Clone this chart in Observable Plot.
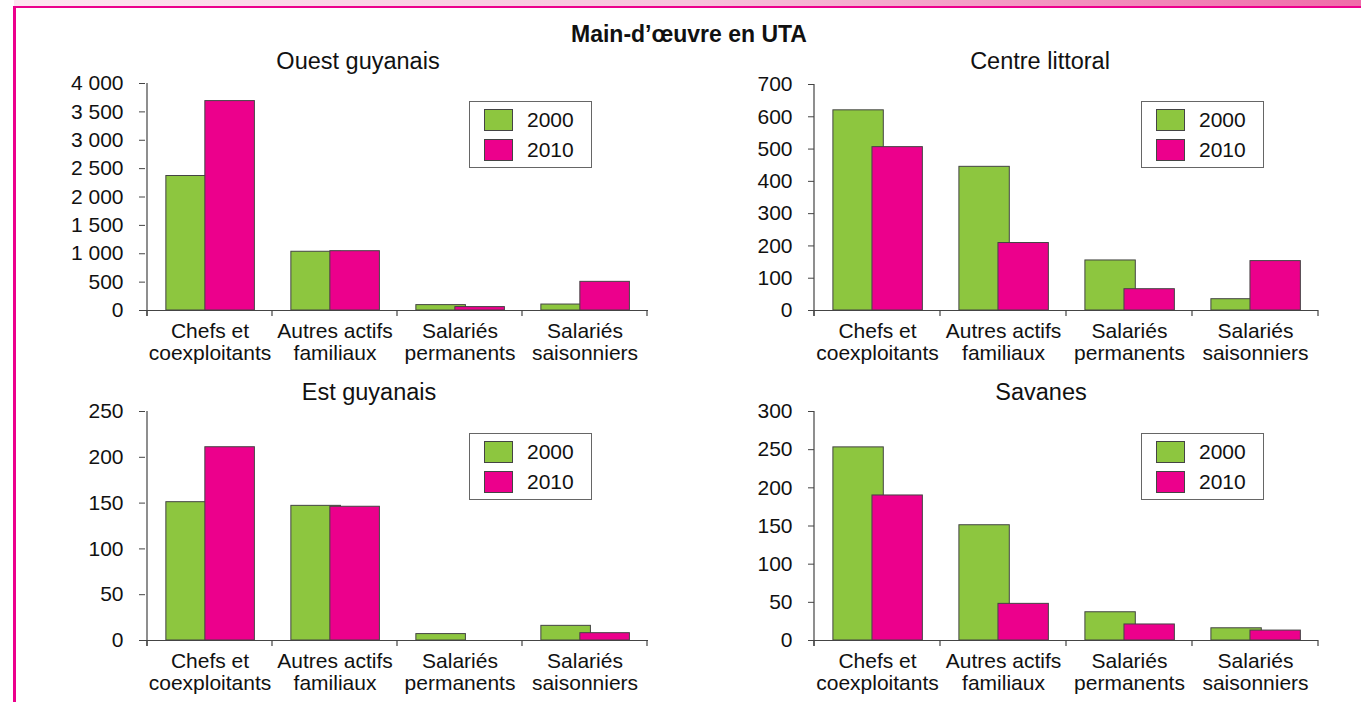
<!DOCTYPE html>
<html>
<head>
<meta charset="utf-8">
<script src="https://cdn.jsdelivr.net/npm/d3@7"></script>
<script src="https://cdn.jsdelivr.net/npm/@observablehq/plot@0.6"></script>
<style>
  html, body { margin: 0; padding: 0; background: #fff; }
  #root { position: relative; width: 1361px; height: 702px; overflow: hidden; font-family: "Liberation Sans", Arial, sans-serif; color: #111; }
  .abs { position: absolute; }
  .ptitle { position: absolute; font-size: 23.5px; transform: translate(-50%, -50%); white-space: nowrap; }
  .legend { position: absolute; width: 123px; height: 67px; border: 1px solid #666; box-sizing: border-box; background: #fff; }
  .legend .row { position: absolute; left: 14px; height: 22px; display: flex; align-items: center; font-size: 21px; }
  .legend .sw { width: 29px; height: 22px; border: 1px solid #444; box-sizing: border-box; margin-right: 14px; }
</style>
</head>
<body>
<div id="root"></div>
<script>
// ---- data ----
const categories = ["Chefs et coexploitants", "Autres actifs familiaux", "Salariés permanents", "Salariés saisonniers"];
const categoryLabels = ["Chefs et\ncoexploitants", "Autres actifs\nfamiliaux", "Salariés\npermanents", "Salariés\nsaisonniers"];
const years = ["2000", "2010"];
const mainTitle = "Main-d’œuvre en UTA";
const regionNames = ["Ouest guyanais", "Centre littoral", "Est guyanais", "Savanes"];

const ouest2000 = [2370, 1035, 95, 105];
const ouest2010 = [3690, 1045, 60, 505];
const centre2000 = [620, 445, 155, 35];
const centre2010 = [506, 209, 66, 153];
const est2000 = [151, 147, 7, 16];
const est2010 = [211, 146, 0, 8];
const savanes2000 = [253, 151, 37, 16];
const savanes2010 = [190, 48, 21, 13];

const ouestTicks = [0, 500, 1000, 1500, 2000, 2500, 3000, 3500, 4000];
const ouestTickLabels = ["0", "500", "1 000", "1 500", "2 000", "2 500", "3 000", "3 500", "4 000"];
const centreTicks = [0, 100, 200, 300, 400, 500, 600, 700];
const estTicks = [0, 50, 100, 150, 200, 250];
const savanesTicks = [0, 50, 100, 150, 200, 250, 300];

const colors = {"2000": "#8dc63f", "2010": "#ec008c"};

// ---- layout ----
const root = document.getElementById("root");

function addDiv(style, cls) {
  const d = document.createElement("div");
  if (cls) d.className = cls;
  Object.assign(d.style, style);
  root.appendChild(d);
  return d;
}

// decorative frame
addDiv({left: "14px", top: "0px", width: "1347px", height: "6px", background: "linear-gradient(to right, #fde6f0, #f7c4dc 50%, #f06ca9)"}, "abs");
addDiv({left: "13px", top: "6px", width: "1348px", height: "2px", background: "#ec008c"}, "abs");
addDiv({left: "13px", top: "6px", width: "3px", height: "696px", background: "#ec008c"}, "abs");

const t = addDiv({left: "689px", top: "34px", fontSize: "23px", fontWeight: "bold"}, "ptitle");
t.textContent = mainTitle;

const panels = [
  {name: regionNames[0], v2000: ouest2000, v2010: ouest2010, ticks: ouestTicks, tickLabels: ouestTickLabels,
   left: 0, top: 70, width: 680, mL: 145, mR: 32, mT: 13, titleX: 358, titleY: 61, legX: 469, legY: 101},
  {name: regionNames[1], v2000: centre2000, v2010: centre2010, ticks: centreTicks, tickLabels: centreTicks.map(String),
   left: 680, top: 70, width: 681, mL: 134, mR: 43, mT: 14, titleX: 1040, titleY: 61, legX: 1141, legY: 101},
  {name: regionNames[2], v2000: est2000, v2010: est2010, ticks: estTicks, tickLabels: estTicks.map(String),
   left: 0, top: 400, width: 680, mL: 145, mR: 32, mT: 11, titleX: 369, titleY: 392, legX: 469, legY: 433},
  {name: regionNames[3], v2000: savanes2000, v2010: savanes2010, ticks: savanesTicks, tickLabels: savanesTicks.map(String),
   left: 680, top: 400, width: 681, mL: 134, mR: 43, mT: 11, titleX: 1041, titleY: 392, legX: 1141, legY: 433}
];

const H = 300, mB = 60;
const axisColor = "#444";

for (const p of panels) {
  const d2000 = categories.map((c, i) => ({cat: c, v: p.v2000[i]}));
  const d2010 = categories.map((c, i) => ({cat: c, v: p.v2010[i]}));
  const bw = (p.width - p.mL - p.mR) / categories.length;
  const g = 0.15 * bw, w = 0.4 * bw, s = 0.31 * bw;
  const labelOf = new Map(categories.map((c, i) => [c, categoryLabels[i]]));
  const tickLabelOf = new Map(p.ticks.map((v, i) => [v, p.tickLabels[i]]));
  const chart = Plot.plot({
    width: p.width, height: H,
    marginLeft: p.mL, marginRight: p.mR, marginTop: p.mT, marginBottom: mB,
    style: {fontFamily: "'Liberation Sans', Arial, sans-serif", fontSize: "21px", color: "#111", background: "transparent", overflow: "visible"},
    x: {domain: categories, padding: 0},
    y: {domain: [0, p.ticks[p.ticks.length - 1]]},
    marks: [
      Plot.barY(d2000, {x: "cat", y: "v", fill: colors["2000"], stroke: axisColor, strokeWidth: 1,
        insetLeft: g, insetRight: bw - g - w}),
      Plot.barY(d2010, {x: "cat", y: "v", fill: colors["2010"], stroke: axisColor, strokeWidth: 1,
        insetLeft: g + s, insetRight: bw - g - s - w}),
      Plot.ruleY([0], {stroke: axisColor, strokeWidth: 1.2}),
      Plot.axisX({tickSize: 0, tickPadding: 12, label: null, lineHeight: 1.05, fontSize: 21,
        tickFormat: d => labelOf.get(d)}),
      Plot.axisY({ticks: p.ticks, tickSize: 6, tickPadding: 16, label: null, fontSize: 21, stroke: axisColor,
        tickFormat: d => tickLabelOf.get(d)})
    ]
  });
  chart.style.position = "absolute";
  chart.style.left = p.left + "px";
  chart.style.top = p.top + "px";
  root.appendChild(chart);

  // axis line and category boundary ticks from the library's scales
  const xs = chart.scale("x"), ys = chart.scale("y");
  const y0 = ys.apply(0), yTop = ys.apply(p.ticks[p.ticks.length - 1]);
  const svg = d3.select(chart);
  const x0 = xs.apply(categories[0]);
  svg.append("line").attr("x1", x0).attr("x2", x0).attr("y1", y0 + 6).attr("y2", yTop)
    .attr("stroke", axisColor).attr("stroke-width", 1.2);
  const bounds = categories.map(c => xs.apply(c)).concat([xs.apply(categories[categories.length - 1]) + xs.bandwidth]);
  for (const bx of bounds) {
    svg.append("line").attr("x1", bx).attr("x2", bx).attr("y1", y0).attr("y2", y0 + 6)
      .attr("stroke", axisColor).attr("stroke-width", 1.2);
  }

  const tt = addDiv({left: p.titleX + "px", top: p.titleY + "px"}, "ptitle");
  tt.textContent = p.name;

  const lg = addDiv({left: p.legX + "px", top: p.legY + "px"}, "legend");
  years.forEach((yr, i) => {
    const row = document.createElement("div");
    row.className = "row";
    row.style.top = (7 + i * 30) + "px";
    const sw = document.createElement("div");
    sw.className = "sw";
    sw.style.background = colors[yr];
    const lab = document.createElement("span");
    lab.textContent = yr;
    row.appendChild(sw); row.appendChild(lab);
    lg.appendChild(row);
  });
}
</script>
</body>
</html>
